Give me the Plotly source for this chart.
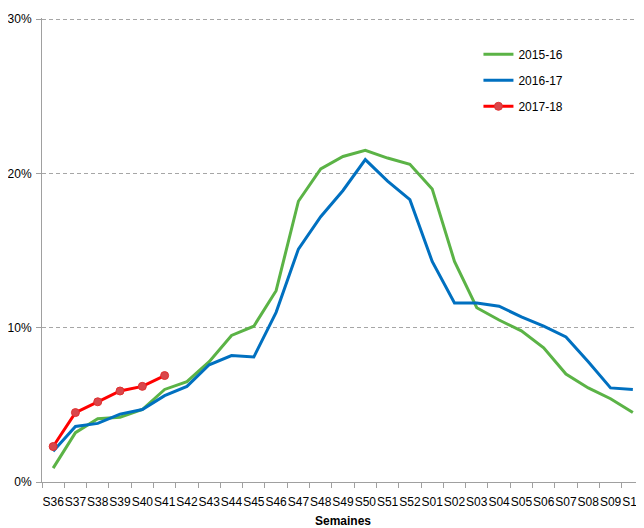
import plotly.graph_objects as go

weeks = ["S36", "S37", "S38", "S39", "S40", "S41", "S42", "S43", "S44", "S45", "S46",
         "S47", "S48", "S49", "S50", "S51", "S52", "S01", "S02", "S03", "S04", "S05",
         "S06", "S07", "S08", "S09", "S10"]

s2015_16 = [0.9, 3.2, 4.1, 4.2, 4.7, 6.0, 6.5, 7.8, 9.5, 10.1, 12.4, 18.2, 20.3, 21.1,
            21.5, 21.0, 20.6, 19.0, 14.3, 11.3, 10.5, 9.8, 8.7, 7.0, 6.1, 5.4, 4.5]
s2016_17 = [2.0, 3.6, 3.8, 4.4, 4.7, 5.6, 6.2, 7.6, 8.2, 8.1, 11.0, 15.1, 17.2, 18.9,
            20.9, 19.5, 18.3, 14.3, 11.6, 11.6, 11.4, 10.7, 10.1, 9.4, 7.8, 6.1, 6.0]
s2017_18 = [2.3, 4.5, 5.2, 5.9, 6.2, 6.9]

font = "Liberation Sans Narrow, Liberation Sans, sans-serif"

fig = go.Figure()
fig.add_trace(go.Scatter(x=weeks, y=s2015_16, name="2015-16", mode="lines",
                         line=dict(color="#5BB346", width=3), legendgroup="a"))
fig.add_trace(go.Scatter(x=weeks, y=s2016_17, name="2016-17", mode="lines",
                         line=dict(color="#0070C0", width=3), legendgroup="b"))
fig.add_trace(go.Scatter(x=weeks[:len(s2017_18)], y=s2017_18, name="2017-18",
                         mode="lines+markers",
                         line=dict(color="#FF0000", width=3),
                         marker=dict(color="#D9474B", size=8,
                                     line=dict(color="#E03030", width=1)),
                         legendgroup="c"))

fig.update_layout(
    width=636, height=520,
    margin=dict(l=34, r=0, t=10, b=46),
    plot_bgcolor="white", paper_bgcolor="white",
    font=dict(family=font, size=12, color="#000000"),
    showlegend=True,
    legend=dict(x=0.725, y=0.953, xanchor="left", yanchor="top",
                font=dict(size=12, family=font), tracegroupgap=7,
                bgcolor="rgba(0,0,0,0)", itemwidth=30),
    xaxis=dict(
        type="category", range=[-0.5, 26.5], automargin=False,
        showline=True, linecolor="#A0A0A0", linewidth=1,
        ticks="outside", tickson="boundaries", ticklen=5, tickcolor="#A0A0A0",
        showgrid=False, tickfont=dict(size=12), tickangle=0, ticklabelstandoff=9,
        title=dict(text="<b>Semaines</b>", font=dict(size=12), standoff=14),
    ),
    yaxis=dict(
        range=[0, 30.08], tickvals=[0, 10, 20, 30], automargin=False,
        ticktext=["0%", "10%", "20%", "30%"],
        showline=True, linecolor="#A0A0A0", linewidth=1,
        ticks="outside", ticklen=5, tickcolor="#A0A0A0",
        showgrid=True, gridcolor="#A6A6A6", griddash="4px,3px", gridwidth=1,
        zeroline=False, tickfont=dict(size=12), ticklabelstandoff=2,
    ),
)

fig.write_html("out.html")
